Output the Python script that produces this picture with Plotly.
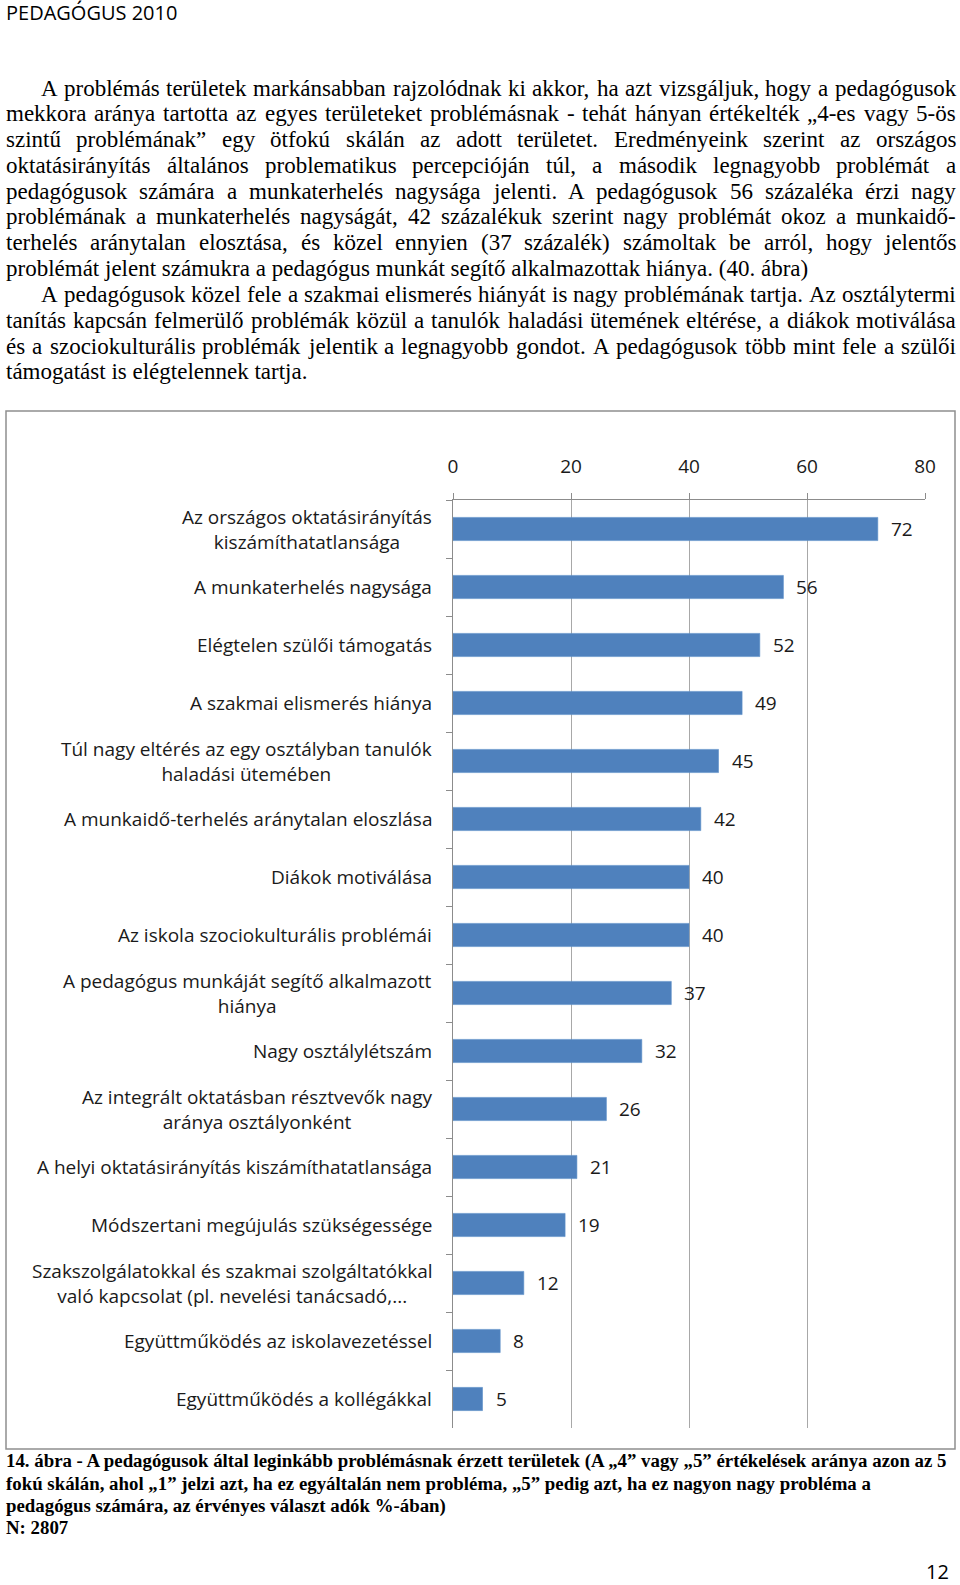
import plotly.graph_objects as go

# ---------------- data ----------------
categories = [
    "Az országos oktatásirányítás<br>kiszámíthatatlansága",
    "A munkaterhelés nagysága",
    "Elégtelen szülői támogatás",
    "A szakmai elismerés hiánya",
    "Túl nagy eltérés az egy osztályban tanulók<br>haladási ütemében",
    "A munkaidő-terhelés aránytalan eloszlása",
    "Diákok motiválása",
    "Az iskola szociokulturális problémái",
    "A pedagógus munkáját segítő alkalmazott<br>hiánya",
    "Nagy osztálylétszám",
    "Az integrált oktatásban résztvevők nagy<br>aránya osztályonként",
    "A helyi oktatásirányítás kiszámíthatatlansága",
    "Módszertani megújulás szükségessége",
    "Szakszolgálatokkal és szakmai szolgáltatókkal<br>való kapcsolat (pl. nevelési tanácsadó,...",
    "Együttműködés az iskolavezetéssel",
    "Együttműködés a kollégákkal",
]
values = [72, 56, 52, 49, 45, 42, 40, 40, 37, 32, 26, 21, 19, 12, 8, 5]
x_ticks = [0, 20, 40, 60, 80]

header_text = "PEDAGÓGUS 2010"
paragraph_lines = [
    "A problémás területek markánsabban rajzolódnak ki akkor, ha azt vizsgáljuk, hogy a pedagógusok",
    "mekkora aránya tartotta az egyes területeket problémásnak - tehát hányan értékelték „4-es vagy 5-ös",
    "szintű problémának” egy ötfokú skálán az adott területet. Eredményeink szerint az országos",
    "oktatásirányítás általános problematikus percepcióján túl, a második legnagyobb problémát a",
    "pedagógusok számára a munkaterhelés nagysága jelenti. A pedagógusok 56 százaléka érzi nagy",
    "problémának a munkaterhelés nagyságát, 42 százalékuk szerint nagy problémát okoz a munkaidő-",
    "terhelés aránytalan elosztása, és közel ennyien (37 százalék) számoltak be arról, hogy jelentős",
    "problémát jelent számukra a pedagógus munkát segítő alkalmazottak hiánya. (40. ábra)",
    "A pedagógusok közel fele a szakmai elismerés hiányát is nagy problémának tartja. Az osztálytermi",
    "tanítás kapcsán felmerülő problémák közül a tanulók haladási ütemének eltérése, a diákok motiválása",
    "és a szociokulturális problémák jelentik a legnagyobb gondot. A pedagógusok több mint fele a szülői",
    "támogatást is elégtelennek tartja.",
]
justified = [True] * 7 + [False] + [True] * 3 + [False]
indents = [35, 0, 0, 0, 0, 0, 0, 0, 35, 0, 0, 0]
caption_lines = [
    "14. ábra - A pedagógusok által leginkább problémásnak érzett területek (A „4” vagy „5” értékelések aránya azon az 5",
    "fokú skálán, ahol „1” jelzi azt, ha ez egyáltalán nem probléma, „5” pedig azt, ha ez nagyon nagy probléma a",
    "pedagógus számára, az érvényes választ adók %-ában)",
    "N: 2807",
]
page_number = "12"

# ---------------- page geometry ----------------
W, H = 960, 1585
PL, PR, PT, PB = 453, 925, 500, 1428


def px(x):
    return (x - PL) / (PR - PL)


def py(y):
    return (PB - y) / (PB - PT)


ACC = {"á": "a", "é": "e", "í": "i", "ó": "o", "ö": "o", "ő": "o", "ú": "u", "ü": "u", "ű": "u",
       "Á": "A", "É": "E", "Ó": "O"}
TIMES = {" ": 250, "a": 444, "b": 500, "c": 444, "d": 500, "e": 444, "f": 333, "g": 500, "h": 500,
         "i": 278, "j": 278, "k": 500, "l": 278, "m": 778, "n": 500, "o": 500, "p": 500, "q": 500,
         "r": 333, "s": 389, "t": 278, "u": 500, "v": 500, "w": 722, "x": 500, "y": 500, "z": 444,
         "A": 722, "E": 611, "N": 722, "O": 722, ",": 250, ".": 250, "-": 333, "(": 333, ")": 333,
         "„": 444, "”": 444, "%": 833, ":": 278}
TIMES_B = {" ": 250, "a": 500, "b": 556, "c": 444, "d": 556, "e": 444, "f": 333, "g": 500, "h": 556,
           "i": 278, "j": 333, "k": 556, "l": 278, "m": 833, "n": 556, "o": 500, "p": 556, "q": 556,
           "r": 444, "s": 389, "t": 333, "u": 556, "v": 500, "w": 722, "x": 500, "y": 500, "z": 444,
           "A": 722, "N": 722, ",": 250, ".": 250, "-": 333, "(": 333, ")": 333, "„": 500, "”": 500,
           "%": 1000, ":": 333}


def text_width(s, table, size):
    tot = 0
    for ch in s:
        c = ACC.get(ch, ch)
        if c.isdigit():
            tot += 500
        else:
            tot += table.get(c, 500)
    return tot / 1000 * size


annotations = []
shapes = []

# header
annotations.append(dict(text=header_text, x=px(4), y=py(13), xref="paper", yref="paper",
                        xanchor="left", yanchor="middle", showarrow=False,
                        font=dict(family="Open Sans", size=20, color="#000")))

# paragraph
P_SIZE = 23
LEFT, RIGHT = 5, 955
for i, line in enumerate(paragraph_lines):
    yc = 88 + 25.8 * i
    x0 = LEFT + indents[i]
    if justified[i]:
        words = line.split(" ")
        widths = [text_width(w, TIMES, P_SIZE) for w in words]
        gap = (RIGHT - x0 - sum(widths)) / (len(words) - 1)
        xc = x0
        for w, ww in zip(words, widths):
            annotations.append(dict(text=w, x=px(xc - 1), y=py(yc), xref="paper", yref="paper",
                                    xanchor="left", yanchor="middle", showarrow=False,
                                    font=dict(family="Liberation Serif", size=P_SIZE, color="#000")))
            xc += ww + gap
    else:
        annotations.append(dict(text=line, x=px(x0 - 1), y=py(yc), xref="paper", yref="paper",
                                xanchor="left", yanchor="middle", showarrow=False,
                                font=dict(family="Liberation Serif", size=P_SIZE, color="#000")))

# caption
cap_size = 945 / text_width(caption_lines[0], TIMES_B, 1)
for i, line in enumerate(caption_lines):
    annotations.append(dict(text=line, x=px(4), y=py(1461 + 22.3 * i), xref="paper", yref="paper",
                            xanchor="left", yanchor="middle", showarrow=False,
                            font=dict(family="Liberation Serif", size=cap_size, color="#000",
                                      weight="bold")))

# page number
annotations.append(dict(text=page_number, x=px(951), y=py(1571), xref="paper", yref="paper",
                        xanchor="right", yanchor="middle", showarrow=False,
                        font=dict(family="Open Sans", size=20, color="#000")))

# category labels and value labels
for c, v in zip(categories, values):
    annotations.append(dict(text=c, x=0, y=c, xref="x", yref="y", xanchor="right", yanchor="middle",
                            align="center", xshift=-19, showarrow=False,
                            font=dict(family="Open Sans", size=19, color="#1a1a1a")))
    annotations.append(dict(text=str(v), x=v, y=c, xref="x", yref="y", xanchor="left",
                            yanchor="middle", xshift=11, showarrow=False,
                            font=dict(family="Open Sans", size=19, color="#1a1a1a")))

# chart frame
shapes.append(dict(type="rect", xref="paper", yref="paper", x0=px(6), x1=px(955),
                   y0=py(411), y1=py(1449), line=dict(color="#8f8f8f", width=1.5),
                   fillcolor="rgba(0,0,0,0)", layer="below"))

fig = go.Figure(go.Bar(
    x=values, y=categories, orientation="h", width=0.4,
    marker=dict(color="#4f81bd", line=dict(color="#5b8dc8", width=0.6)),
    hoverinfo="x+y",
))

fig.update_layout(
    width=W, height=H,
    margin=dict(l=PL, r=W - PR, t=PT, b=H - PB, pad=0),
    paper_bgcolor="white", plot_bgcolor="white",
    showlegend=False,
    annotations=annotations,
    shapes=shapes,
    xaxis=dict(side="top", range=[0, 80], tickvals=x_ticks, showgrid=True, gridcolor="#a8a8a8",
               gridwidth=1, showline=True, linecolor="#8c8c8c", linewidth=1, ticks="outside",
               ticklen=6, tickcolor="#8c8c8c", ticklabelstandoff=12, zeroline=False,
               tickfont=dict(family="Open Sans", size=19, color="#1a1a1a"), fixedrange=True),
    yaxis=dict(type="category", categoryorder="array", categoryarray=categories,
               autorange="reversed", showticklabels=False, ticks="outside", tickson="boundaries",
               ticklen=6, tickcolor="#8c8c8c", showline=True, linecolor="#8c8c8c", linewidth=1,
               showgrid=False, zeroline=False, fixedrange=True),
)

fig.write_html(
    "out.html",
    config={"displayModeBar": False},
    post_script="document.body.style.margin='0';document.body.style.padding='0';"
                "document.body.style.overflow='hidden';document.documentElement.style.overflow='hidden';",
)
